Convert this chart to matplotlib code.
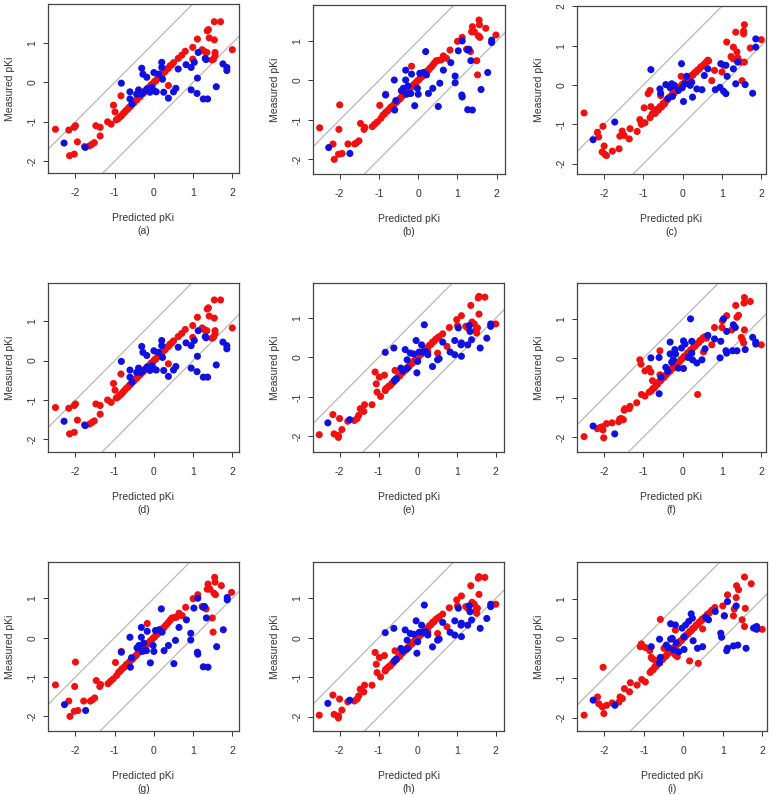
import matplotlib.pyplot as plt

plt.rcParams['font.family'] = ['Liberation Sans', 'DejaVu Sans']

# ---- panel (a) / (d) ----
a_red_x = [-2.51, -2.17, -2.03, -2.00, -1.95, -2.15, -2.03, -1.77, -1.64, -1.58,
           -1.52, -1.48, -1.37, -1.37, -1.18, -1.09, -1.03, -0.99, -0.96, -0.84,
           0.37, 0.62, 0.71, 0.80, 0.99, 0.99, 1.11, 1.23, 1.28, 1.35,
           1.36, 1.39, 1.41, 1.48, 1.54, 1.54, 1.56, 1.56, 1.70, 2.00, 1.52]
a_red_y = [-1.19, -1.21, -1.14, -1.10, -1.51, -1.86, -1.82, -1.63, -1.61, -1.57,
           -1.53, -1.10, -1.14, -1.36, -1.00, -1.06, -0.58, -0.75, -0.95, -0.34,
           -0.08, 0.61, 0.69, 0.79, 0.89, 0.59, 1.10, 0.83, 0.79, 0.76,
           1.31, 1.34, 1.13, 0.57, 1.08, 1.54, 0.76, 0.68, 1.54, 0.83, 0.59]
a_diag_x = [-0.92, -0.87, -0.83, -0.79, -0.75, -0.71, -0.67, -0.63, -0.59, -0.55,
            -0.51, -0.47, -0.43, -0.39, -0.35, -0.31, -0.27, -0.23, -0.19, -0.15,
            -0.11, -0.07, -0.03, 0.01, 0.05, 0.09, 0.13, 0.17, 0.21, 0.25,
            0.29, 0.33, 0.37, 0.41, 0.45, 0.50]
a_diag_y = [-0.93, -0.88, -0.85, -0.80, -0.76, -0.71, -0.68, -0.63, -0.60, -0.55,
            -0.52, -0.46, -0.44, -0.38, -0.36, -0.30, -0.28, -0.22, -0.20, -0.14,
            -0.12, -0.06, -0.04, 0.02, 0.04, 0.10, 0.12, 0.18, 0.20, 0.26,
            0.28, 0.34, 0.36, 0.42, 0.44, 0.50]
a_blue_x = [-2.29, -1.75, -0.83, -0.61, -0.61, -0.56, -0.44, -0.39, -0.33, -0.31,
            -0.28, -0.27, -0.18, -0.18, -0.10, -0.05, 0.00, 0.00, 0.06, 0.12,
            0.20, 0.20, 0.22, 0.25, 0.37, 0.50, 0.56, 0.62, 0.82, 0.95,
            0.95, 1.03, 1.10, 1.11, 1.13, 1.26, 1.31, 1.37, 1.33, 1.59,
            1.76, 1.86, 1.86]
a_blue_y = [-1.54, -1.65, -0.02, -0.24, -0.42, -0.55, -0.30, -0.19, -0.30, 0.36,
            0.21, -0.25, 0.13, -0.17, -0.25, -0.13, -0.21, 0.25, -0.24, 0.21,
            0.51, 0.38, 0.08, -0.25, -0.40, -0.24, -0.15, 0.34, 0.45, 0.38,
            -0.19, 0.51, -0.28, 0.11, 0.76, -0.42, 0.61, -0.42, 0.58, -0.11,
            0.47, 0.38, 0.30]

# ---- panel (b) / (g) ----
b_red_x = [-2.51, -2.02, -2.00, -2.17, -2.14, -2.03, -1.94, -1.79, -1.62, -1.57,
           -1.51, -1.47, -1.38, -1.36, -1.17, -1.11, -1.04, -0.98, -0.95, -0.83,
           -0.17, 0.64, 0.72, 0.81, 1.00, 1.12, 1.23, 1.33, 1.36, 1.38,
           1.43, 1.49, 1.51, 1.53, 1.55, 1.56, 1.57, 1.72, 1.98]
b_red_y = [-1.20, -1.24, -0.62, -1.61, -2.00, -1.87, -1.85, -1.61, -1.61, -1.58,
           -1.53, -1.09, -1.24, -1.19, -1.17, -1.11, -1.05, -0.63, -0.96, -0.35,
           0.36, 0.62, 0.56, 0.77, 0.99, 1.09, 0.79, 0.73, 1.23, 1.36,
           1.23, 0.50, 0.14, 1.13, 1.53, 1.41, 1.09, 1.32, 1.15]
b_diag_x = [-0.90, -0.86, -0.82, -0.78, -0.74, -0.70, -0.66, -0.62, -0.58, -0.54,
            -0.50, -0.46, -0.42, -0.38, -0.34, -0.30, -0.26, -0.22, -0.18, -0.14,
            -0.10, -0.06, -0.02, 0.02, 0.06, 0.10, 0.14, 0.18, 0.22, 0.26,
            0.30, 0.34, 0.38, 0.42, 0.46, 0.52, 0.58]
b_diag_y = [-0.88, -0.85, -0.80, -0.77, -0.73, -0.68, -0.66, -0.61, -0.57, -0.54,
            -0.49, -0.46, -0.41, -0.37, -0.33, -0.30, -0.25, -0.22, -0.17, -0.14,
            -0.09, -0.06, -0.01, 0.02, 0.07, 0.10, 0.15, 0.18, 0.23, 0.26,
            0.31, 0.35, 0.40, 0.45, 0.50, 0.51, 0.52]
b_blue_x = [-2.28, -1.74, -0.83, -0.61, -0.60, -0.57, -0.43, -0.38, -0.32, -0.32,
            -0.30, -0.26, -0.24, -0.19, -0.17, -0.09, -0.02, 0.00, 0.04, 0.13,
            0.19, 0.21, 0.26, 0.37, 0.51, 0.55, 0.64, 0.83, 0.94, 0.94,
            1.02, 1.11, 1.12, 1.12, 1.26, 1.26, 1.29, 1.34, 1.38, 1.60,
            1.77, 1.87, 1.87]
b_blue_y = [-1.70, -1.85, -0.37, 0.01, -0.75, -0.51, -0.26, -0.20, 0.26, 0.01,
            -0.35, -0.14, -0.33, -0.33, 0.16, -0.64, -0.20, -0.35, 0.18, 0.20,
            0.73, 0.14, -0.33, -0.20, -0.66, -0.07, 0.26, 0.45, 0.11, -0.06,
            0.75, -0.37, -0.42, 1.00, -0.74, 0.77, 0.79, 0.50, -0.75, -0.23,
            0.20, 1.02, 0.96]

# ---- panel (c) ----
c_red_x = [-2.51, -2.17, -2.14, -2.03, -2.00, -2.05, -1.98, -1.94, -1.79, -1.62,
           -1.60, -1.54, -1.49, -1.36, -1.34, -1.16, -1.09, -1.06, -1.05, -0.96,
           -0.98, -0.88, -0.83, -0.81, -0.83, -0.56, -0.04, 0.66, 0.74, 0.81,
           1.00, 1.04, 1.12, 1.23, 1.29, 1.29, 1.35, 1.38, 1.40, 1.49,
           1.51, 1.55, 1.55, 1.57, 1.57, 1.72, 2.00]
c_red_y = [-0.71, -1.20, -1.32, -1.05, -1.55, -1.70, -1.76, -1.79, -1.68, -1.62,
           -1.30, -1.17, -1.28, -1.37, -1.11, -1.18, -0.88, -0.94, -1.00, -0.96,
           -0.58, -0.22, -0.14, -0.55, -0.83, -0.27, 0.22, 0.61, 0.11, 0.37,
           0.33, 0.50, 1.09, 0.72, 0.96, 0.66, 1.34, 0.84, 0.69, 0.58,
           0.11, 1.37, 1.30, 1.53, 0.58, 0.94, 1.15]
c_diag_x = [-0.78, -0.74, -0.70, -0.66, -0.62, -0.58, -0.54, -0.50, -0.46, -0.42,
            -0.38, -0.34, -0.30, -0.26, -0.22, -0.18, -0.14, -0.10, -0.06, -0.02,
            0.02, 0.06, 0.10, 0.14, 0.18, 0.22, 0.26, 0.30, 0.34, 0.38,
            0.42, 0.46, 0.50, 0.55, 0.60, 0.64]
c_diag_y = [-0.74, -0.70, -0.72, -0.62, -0.64, -0.55, -0.56, -0.47, -0.48, -0.40,
            -0.36, -0.31, -0.29, -0.22, -0.21, -0.15, -0.13, -0.07, -0.06, 0.01,
            0.03, 0.08, 0.10, 0.16, 0.17, 0.24, 0.25, 0.31, 0.33, 0.38,
            0.40, 0.46, 0.48, 0.53, 0.58, 0.63]
c_blue_x = [-2.28, -1.73, -0.81, -0.58, -0.56, -0.43, -0.38, -0.32, -0.28, -0.26,
            -0.21, -0.11, -0.03, -0.01, 0.02, 0.06, 0.10, 0.19, 0.23, 0.25,
            0.36, 0.49, 0.55, 0.64, 0.83, 0.95, 0.97, 1.04, 1.10, 1.10,
            1.13, 1.29, 1.35, 1.40, 1.59, 1.78, 1.86, 1.86]
c_blue_y = [-1.39, -0.94, 0.39, -0.10, -0.21, 0.01, -0.35, -0.07, 0.03, -0.29,
            -0.01, -0.14, 0.54, -0.07, -0.42, 0.03, 0.22, -0.01, 0.07, -0.31,
            -0.10, -0.12, 0.24, 0.41, -0.12, -0.06, 0.54, -0.16, 0.50, -0.22,
            0.22, 0.41, 0.03, 0.58, 0.01, -0.21, 0.96, 1.17]

# ---- panel (e) / (h) ----
e_red_x = [-2.52, -2.17, -2.14, -2.03, -2.00, -2.03, -1.94, -1.79, -1.62, -1.55,
           -1.51, -1.47, -1.38, -1.36, -1.17, -1.09, -1.06, -1.04, -0.98, -0.95,
           -0.85, -0.83, -0.58, 0.26, 0.51, 0.64, 0.75, 0.81, 1.00, 1.02,
           1.12, 1.23, 1.28, 1.36, 1.39, 1.45, 1.49, 1.51, 1.53, 1.55,
           1.57, 1.57, 1.72, 2.00]
e_red_y = [-1.96, -1.45, -1.94, -2.03, -1.55, -1.98, -1.83, -1.62, -1.60, -1.55,
           -1.47, -1.30, -1.37, -1.20, -1.20, -0.37, -0.67, -0.88, -0.50, -0.99,
           -0.45, -0.84, -0.33, 0.14, 0.11, 0.60, 0.28, 0.76, 0.96, 0.81,
           1.06, 0.79, 0.75, 1.32, 0.90, 0.85, 0.70, 0.62, 0.75, 1.51,
           1.55, 1.10, 1.53, 0.85]
e_diag_x = [-0.82, -0.78, -0.74, -0.70, -0.66, -0.62, -0.58, -0.54, -0.50, -0.46,
            -0.42, -0.38, -0.34, -0.30, -0.26, -0.22, -0.18, -0.14, -0.10, -0.06,
            -0.02, 0.02, 0.06, 0.10, 0.14, 0.18, 0.22, 0.26, 0.30, 0.34,
            0.38, 0.42, 0.46, 0.50, 0.55]
e_diag_y = [-0.80, -0.77, -0.73, -0.71, -0.66, -0.63, -0.57, -0.55, -0.49, -0.47,
            -0.41, -0.38, -0.33, -0.31, -0.25, -0.23, -0.17, -0.15, -0.09, -0.07,
            -0.01, 0.01, 0.07, 0.09, 0.15, 0.17, 0.23, 0.25, 0.31, 0.33,
            0.39, 0.41, 0.46, 0.49, 0.53]
e_blue_x = [-2.30, -1.74, -0.83, -0.61, -0.60, -0.55, -0.43, -0.38, -0.32, -0.27,
            -0.26, -0.19, -0.10, -0.04, -0.02, 0.00, 0.04, 0.10, 0.14, 0.17,
            0.21, 0.26, 0.38, 0.51, 0.55, 0.64, 0.83, 0.95, 0.95, 1.04,
            1.11, 1.12, 1.12, 1.28, 1.32, 1.34, 1.38, 1.60, 1.77, 1.87, 1.87]
e_blue_y = [-1.66, -1.58, 0.13, 0.24, -0.59, -0.54, -0.27, -0.34, 0.20, -0.06,
            -0.27, 0.11, 0.09, 0.43, -0.39, -0.10, 0.14, 0.32, 0.14, 0.83,
            0.15, 0.07, -0.23, -0.06, -0.03, 0.39, 0.14, 0.07, 0.43, 0.75,
            0.32, 0.37, 0.03, 0.32, 0.81, 0.66, 0.45, 0.24, 0.49, 0.79, 0.85]

# ---- panel (f) ----
f_red_x = [-2.51, -2.17, -2.11, -2.03, -2.05, -2.01, -1.94, -1.80, -1.63, -1.60,
           -1.56, -1.51, -1.49, -1.47, -1.36, -1.34, -1.17, -1.09, -1.06, -1.05,
           -0.96, -0.96, -0.86, -0.81, -0.77, -0.85, -0.58, -0.58, 0.38, 0.53,
           0.61, 0.74, 0.81, 1.00, 1.01, 1.12, 1.25, 1.35, 1.38, 1.42,
           1.49, 1.52, 1.55, 1.57, 1.56, 1.57, 1.72, 2.00]
f_red_y = [-1.99, -1.79, -1.76, -1.82, -1.74, -2.02, -1.66, -1.64, -1.61, -1.54,
           -1.53, -1.56, -1.32, -1.28, -1.28, -1.22, -1.13, -0.04, -0.15, -0.92,
           -0.32, -0.96, -0.26, -0.35, -0.57, -0.86, 0.19, -0.42, -0.92, 0.16,
           0.51, 0.34, 0.78, 0.78, 0.95, 1.08, 0.72, 1.34, 1.04, 1.09,
           0.53, 0.47, 0.39, 0.72, 1.40, 1.54, 1.44, 0.34]
f_diag_x = [-0.80, -0.76, -0.72, -0.68, -0.64, -0.60, -0.56, -0.52, -0.48, -0.44,
            -0.40, -0.36, -0.32, -0.28, -0.24, -0.20, -0.16, -0.12, -0.08, -0.04,
            0.00, 0.04, 0.08, 0.12, 0.16, 0.20, 0.24, 0.28, 0.32, 0.36,
            0.40, 0.44, 0.48, 0.52, 0.57]
f_diag_y = [-0.83, -0.77, -0.75, -0.68, -0.66, -0.59, -0.57, -0.50, -0.49, -0.43,
            -0.40, -0.35, -0.33, -0.26, -0.25, -0.19, -0.17, -0.10, -0.09, -0.03,
            0.00, 0.05, 0.07, 0.13, 0.15, 0.21, 0.23, 0.29, 0.31, 0.37,
            0.39, 0.45, 0.47, 0.52, 0.55]
f_blue_x = [-2.28, -1.73, -0.81, -0.60, -0.60, -0.55, -0.43, -0.38, -0.32, -0.32,
            -0.28, -0.24, -0.20, -0.18, -0.11, -0.03, 0.02, 0.02, 0.06, 0.14,
            0.20, 0.23, 0.23, 0.25, 0.36, 0.49, 0.57, 0.64, 0.81, 0.95,
            0.97, 1.04, 1.10, 1.12, 1.12, 1.27, 1.29, 1.34, 1.38, 1.59,
            1.78, 1.86, 1.86]
f_blue_y = [-1.72, -1.92, 0.01, 0.02, -0.90, -0.48, -0.23, -0.33, 0.41, 0.11,
            -0.10, -0.04, 0.22, 0.11, -0.25, 0.26, 0.44, -0.26, 0.36, 0.02,
            1.00, 0.13, 0.43, -0.04, -0.12, -0.04, 0.24, 0.58, 0.49, 0.01,
            0.43, 1.00, 0.19, 0.68, 0.13, 0.19, 0.85, 0.78, 0.19, 0.22,
            0.53, 0.41, 0.36]

# ---- panel (i) ----
i_red_x = [-2.51, -2.17, -2.14, -2.03, -2.05, -2.01, -1.94, -1.80, -1.63, -1.60,
           -1.54, -1.49, -1.36, -1.34, -1.17, -1.09, -1.06, -1.05, -0.96, -0.96,
           -0.85, -0.81, -0.79, -0.72, -0.58, -0.54, -0.49, -0.20, -0.15, -0.20,
           0.16, 0.38, 0.49, 0.50, 0.80, 1.00, 1.04, 1.12, 1.27, 1.29,
           1.34, 1.35, 1.40, 1.49, 1.55, 1.55, 1.57, 1.72, 2.00]
i_red_y = [-1.94, -1.48, -1.65, -0.73, -1.73, -1.90, -1.69, -1.63, -1.61, -1.48,
           -1.52, -1.27, -1.35, -1.12, -1.18, -0.21, -0.14, -1.04, -1.10, -0.23,
           -0.31, -0.48, -0.51, -0.55, 0.48, -0.51, -0.25, 0.21, -0.46, -0.42,
           -0.57, -0.63, 0.24, 0.48, 0.78, 0.82, 0.57, 1.10, 0.57, 0.74,
           1.03, 1.33, 1.23, 0.47, 0.30, 1.55, 0.76, 1.38, 0.23]
i_diag_x = [-0.84, -0.80, -0.76, -0.72, -0.68, -0.64, -0.60, -0.56, -0.52, -0.48,
            -0.44, -0.40, -0.36, -0.32, -0.28, -0.24, -0.20, -0.16, -0.12, -0.08,
            -0.04, 0.00, 0.04, 0.08, 0.12, 0.16, 0.20, 0.24, 0.28, 0.32,
            0.36, 0.40, 0.44, 0.48, 0.54, 0.60, 0.66, 0.72]
i_diag_y = [-0.86, -0.81, -0.79, -0.72, -0.70, -0.63, -0.62, -0.55, -0.53, -0.47,
            -0.45, -0.39, -0.37, -0.31, -0.29, -0.23, -0.21, -0.15, -0.13, -0.07,
            -0.05, 0.01, 0.03, 0.09, 0.11, 0.17, 0.19, 0.25, 0.27, 0.33,
            0.35, 0.41, 0.43, 0.49, 0.53, 0.60, 0.64, 0.71]
i_blue_x = [-2.28, -1.73, -0.81, -0.60, -0.60, -0.58, -0.43, -0.38, -0.32, -0.32,
            -0.28, -0.24, -0.20, -0.18, -0.11, -0.03, 0.02, 0.02, 0.06, 0.14,
            0.20, 0.23, 0.25, 0.36, 0.49, 0.57, 0.64, 0.81, 0.95, 0.97,
            1.04, 1.10, 1.12, 1.12, 1.27, 1.34, 1.38, 1.59, 1.78, 1.86,
            1.86, 1.83]
i_blue_y = [-1.56, -1.69, -0.21, -0.02, -0.62, -0.48, -0.17, -0.23, 0.37, -0.02,
            0.00, -0.29, 0.34, -0.11, -0.34, 0.26, 0.04, -0.28, 0.34, 0.43,
            0.62, 0.51, -0.06, -0.25, -0.21, 0.53, 0.47, 0.68, 0.13, 0.03,
            0.57, -0.31, -0.25, 0.93, -0.19, 0.82, -0.17, -0.25, 0.26, 0.30,
            0.23, 0.28]

labels = ["(a)", "(b)", "(c)", "(d)", "(e)", "(f)", "(g)", "(h)", "(i)"]
x_ticks = [-2, -1, 0, 1, 2]
y_ticks_short = [-2, -1, 0, 1]
y_ticks_long = [-2, -1, 0, 1, 2]

# (red x, red y, blue x, blue y)
panels = [
    (a_red_x + a_diag_x, a_red_y + a_diag_y, a_blue_x, a_blue_y),
    (b_red_x + b_diag_x, b_red_y + b_diag_y, b_blue_x, b_blue_y),
    (c_red_x + c_diag_x, c_red_y + c_diag_y, c_blue_x, c_blue_y),
    (a_red_x + a_diag_x, a_red_y + a_diag_y, a_blue_x, a_blue_y),
    (e_red_x + e_diag_x, e_red_y + e_diag_y, e_blue_x, e_blue_y),
    (f_red_x + f_diag_x, f_red_y + f_diag_y, f_blue_x, f_blue_y),
    (b_red_x + b_diag_x, b_red_y + b_diag_y, b_blue_x, b_blue_y),
    (e_red_x + e_diag_x, e_red_y + e_diag_y, e_blue_x, e_blue_y),
    (i_red_x + i_diag_x, i_red_y + i_diag_y, i_blue_x, i_blue_y),
]

# axes boxes in pixels: left, top, right, bottom
boxes = [(48, 4, 239, 173), (313, 5, 505, 174), (577, 6, 766, 174),
         (48, 283, 239, 452), (313, 283, 504, 452), (577, 283, 766, 452),
         (48, 562, 239, 731), (313, 562, 504, 731), (577, 562, 767, 731)]
xlims = [(-2.70, 2.17), (-2.68, 2.21), (-2.69, 2.12)] * 3
ylims = [(-2.30, 1.99), (-2.37, 1.91), (-2.26, 2.005),
         (-2.32, 1.97), (-2.40, 1.89), (-2.38, 1.91),
         (-2.37, 1.92), (-2.36, 1.92), (-2.34, 1.93)]
y_tick_sets = [y_ticks_short, y_ticks_short, y_ticks_long] + [y_ticks_short] * 6

W, H = 773, 795
fig = plt.figure(figsize=(W / 100, H / 100), dpi=100)
fig.patch.set_facecolor("white")

for k, (rx, ry, bx, by) in enumerate(panels):
    l, t, r, b = boxes[k]
    ax = fig.add_axes([l / W, 1 - b / H, (r - l) / W, (b - t) / H])
    ax.set_xlim(*xlims[k])
    ax.set_ylim(*ylims[k])
    ax.axline((0, 1), slope=1, color="#b8b8b8", lw=0.9, zorder=1)
    ax.axline((0, -1), slope=1, color="#b8b8b8", lw=0.9, zorder=1)
    ax.scatter(rx, ry, s=26, color="#f01010", edgecolors="none", zorder=2)
    ax.scatter(bx, by, s=26, color="#1010e0", edgecolors="none", zorder=3)

    yt = y_tick_sets[k]
    ax.set_xticks(x_ticks)
    ax.set_yticks(yt)
    ax.set_xticklabels([str(v) for v in x_ticks])
    ax.set_yticklabels([str(v) for v in yt], rotation=90, va="center")
    ax.tick_params(axis="both", direction="out", length=3.5, width=0.7,
                   labelsize=7.5, colors="#333333")
    ax.tick_params(axis="x", pad=7)
    ax.tick_params(axis="y", pad=4)
    for sp in ax.spines.values():
        sp.set_color("#444444")
        sp.set_linewidth(0.9)

    ax.annotate("Predicted pKi", xy=(0.5, 0), xycoords="axes fraction",
                xytext=(0, -32.5), textcoords="offset points",
                ha="center", va="center", fontsize=7.5, color="#333333")
    ax.annotate(labels[k], xy=(0.5, 0), xycoords="axes fraction",
                xytext=(0, -41.5), textcoords="offset points",
                ha="center", va="center", fontsize=7.5, color="#333333")
    ax.annotate("Measured pKi", xy=(0, 0.5), xycoords="axes fraction",
                xytext=(-27.5, 0), textcoords="offset points", rotation=90,
                ha="center", va="center", fontsize=7.5, color="#333333")

fig.savefig("out.png", dpi=100, facecolor="white")
